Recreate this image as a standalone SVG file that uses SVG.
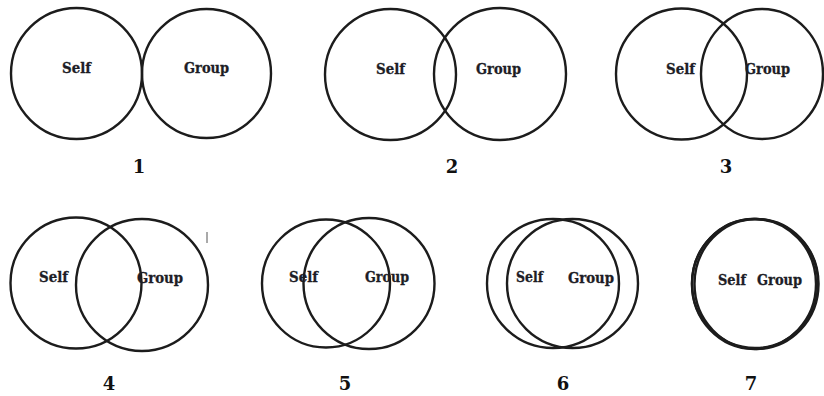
<svg xmlns="http://www.w3.org/2000/svg" width="824" height="396" viewBox="0 0 824 396">
  <style>
    .ring { fill: none; stroke: #1c1c1c; stroke-width: 2.4; }
    .lbl { font-family: "DejaVu Serif", "Liberation Serif", serif; font-weight: bold; font-size: 14px; fill: #1d1d26; stroke: #1d1d26; stroke-width: 0.3; }
    .num { font-family: "DejaVu Serif", "Liberation Serif", serif; font-weight: bold; font-size: 18px; fill: #111; text-anchor: middle; }
  </style>
  <rect width="824" height="396" fill="#fff"/>

  <!-- 1: separate -->
  <g id="stage-1">
    <circle class="ring" cx="76.5" cy="73.5" r="65.5"/>
    <circle class="ring" cx="206.5" cy="73.5" r="64.5"/>
    <text class="lbl" x="62" y="73" textLength="29" lengthAdjust="spacingAndGlyphs">Self</text>
    <text class="lbl" x="184" y="73" textLength="45" lengthAdjust="spacingAndGlyphs">Group</text>
    <text class="num" x="139" y="173">1</text>
  </g>

  <!-- 2: slight overlap -->
  <g id="stage-2">
    <circle class="ring" cx="390.5" cy="74.5" r="65.5"/>
    <circle class="ring" cx="500" cy="74" r="66"/>
    <text class="lbl" x="376" y="74" textLength="29" lengthAdjust="spacingAndGlyphs">Self</text>
    <text class="lbl" x="476" y="74" textLength="45" lengthAdjust="spacingAndGlyphs">Group</text>
    <text class="num" x="452" y="173">2</text>
  </g>

  <!-- 3 -->
  <g id="stage-3">
    <circle class="ring" cx="681.5" cy="74" r="65.5"/>
    <ellipse class="ring" cx="762" cy="74" rx="61" ry="65"/>
    <text class="lbl" x="666" y="74" textLength="29" lengthAdjust="spacingAndGlyphs">Self</text>
    <text class="lbl" x="745" y="74" textLength="45" lengthAdjust="spacingAndGlyphs">Group</text>
    <text class="num" x="726" y="173">3</text>
  </g>

  <!-- 4 -->
  <g id="stage-4">
    <circle class="ring" cx="76" cy="283" r="65.5"/>
    <circle class="ring" cx="142" cy="285" r="66"/>
    <text class="lbl" x="39" y="282" textLength="29" lengthAdjust="spacingAndGlyphs">Self</text>
    <text class="lbl" x="137" y="283" textLength="46" lengthAdjust="spacingAndGlyphs">Group</text>
    <line x1="207" y1="232" x2="207" y2="243" stroke="#555" stroke-width="1"/>
    <text class="num" x="109" y="390">4</text>
  </g>

  <!-- 5 -->
  <g id="stage-5">
    <circle class="ring" cx="326" cy="283.5" r="64"/>
    <circle class="ring" cx="369" cy="283.5" r="65.5"/>
    <text class="lbl" x="289" y="282" textLength="29" lengthAdjust="spacingAndGlyphs">Self</text>
    <text class="lbl" x="365" y="282" textLength="44" lengthAdjust="spacingAndGlyphs">Group</text>
    <text class="num" x="345" y="390">5</text>
  </g>

  <!-- 6 -->
  <g id="stage-6">
    <ellipse class="ring" cx="553" cy="283.5" rx="66" ry="64.5"/>
    <ellipse class="ring" cx="572.5" cy="283.5" rx="65.5" ry="64.5"/>
    <text class="lbl" x="516" y="282" textLength="27" lengthAdjust="spacingAndGlyphs">Self</text>
    <text class="lbl" x="568" y="283" textLength="46" lengthAdjust="spacingAndGlyphs">Group</text>
    <text class="num" x="563" y="390">6</text>
  </g>

  <!-- 7: near-total overlap -->
  <g id="stage-7">
    <ellipse class="ring" cx="754" cy="284" rx="62" ry="65" stroke-width="1.6"/>
    <ellipse class="ring" cx="756.5" cy="284" rx="62" ry="65" stroke-width="1.6"/>
    <ellipse class="ring" cx="755" cy="283.5" rx="63" ry="64.5" stroke-width="1.6"/>
    <text class="lbl" x="718" y="285" textLength="28" lengthAdjust="spacingAndGlyphs">Self</text>
    <text class="lbl" x="757" y="285" textLength="45" lengthAdjust="spacingAndGlyphs">Group</text>
    <text class="num" x="751" y="390">7</text>
  </g>

  <g id="connectors"></g>
</svg>
